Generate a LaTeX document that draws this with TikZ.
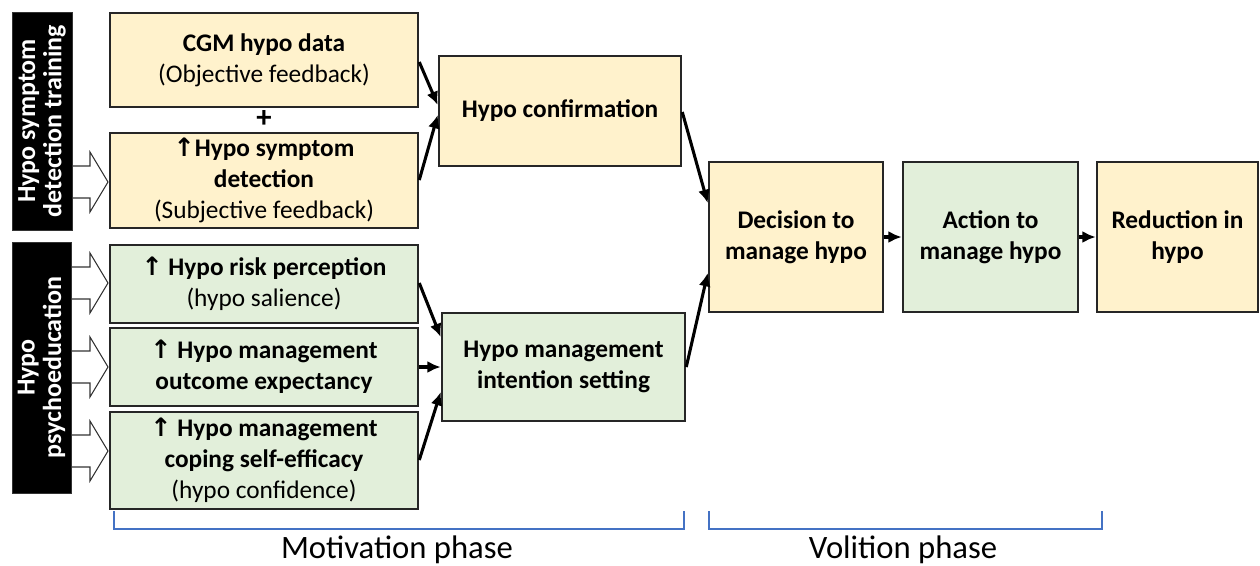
\documentclass[tikz,border=0pt]{standalone}
\usepackage{fontspec}
\setmainfont{Carlito}
\newfontfamily\dejavu{DejaVu Sans}
\usetikzlibrary{arrows.meta,calc}
\definecolor{beige}{HTML}{FFF2CC}
\definecolor{lgreen}{HTML}{E2EFDA}
\definecolor{brk}{HTML}{4472C4}
\newcommand{\up}{{\dejavu\bfseries ↑}}
\tikzset{
  sz/.style 2 args={minimum width=#1*0.75pt, minimum height=#2*0.75pt},
  box/.style={draw=black!85, line width=1.9pt, inner sep=0pt, align=center,
    font=\fontsize{19}{23.3}\selectfont},
  ybox/.style={box, fill=beige},
  gbox/.style={box, fill=lgreen},
  blk/.style={fill=black, draw=black!80, inner sep=0pt, text=white, align=center,
    font=\fontsize{19.5}{22}\selectfont\bfseries},
  arr/.style={line width=2.3pt, -{Latex[length=10pt,width=9pt]}},
  hollow/.style={draw=black!80, fill=white, line width=0.8pt},
  brack/.style={draw=brk, line width=0.8pt},
  phase/.style={font=\fontsize{24.5}{28}\selectfont}
}
\begin{document}
\begin{tikzpicture}[x=0.75pt,y=-0.75pt]
\useasboundingbox (0,0) rectangle (1260,565);
% hollow arrows
\foreach \c/\n in {182/a1,283/a2,367/a3,451/a4}{
  \draw[hollow] (70,\c-16) -- (90,\c-16) -- (90,\c-30) -- (108,\c) -- (90,\c+30) -- (90,\c+16) -- (70,\c+16) -- cycle;
}
% black side boxes
\node[blk, sz={60}{218}] (blk1) at (42,121) {\rotatebox{90}{\shortstack{Hypo symptom\\detection training}}};
\node[blk, sz={59}{251}] (blk2) at (41.5,367.5) {\rotatebox{90}{\shortstack{Hypo\\psychoeducation}}};
% left boxes
\node[ybox, sz={308}{94}] (cgm) at (264,60) {\textbf{CGM hypo data}\\(Objective feedback)};
\node[font=\fontsize{23}{24}\selectfont\bfseries] (plus) at (264,119) {+};
\node[ybox, sz={308}{95}] (sym) at (264,180.5) {\textbf{\up Hypo symptom}\\\textbf{detection}\\(Subjective feedback)};
\node[gbox, sz={308}{78}] (risk) at (264,284) {\textbf{\up{} Hypo risk perception}\\(hypo salience)};
\node[gbox, sz={308}{78}] (out) at (264,367) {\textbf{\up{} Hypo management}\\\textbf{outcome expectancy}};
\node[gbox, sz={308}{97}] (cope) at (264,460.5) {\textbf{\up{} Hypo management}\\\textbf{coping self-efficacy}\\(hypo confidence)};
% middle boxes
\node[ybox, sz={242}{110}] (conf) at (560,111) {\textbf{Hypo confirmation}};
\node[gbox, sz={243}{108}] (intent) at (563.5,367) {\textbf{Hypo management}\\\textbf{intention setting}};
% right boxes
\node[ybox, sz={174}{150}] (dec) at (796,237) {\textbf{Decision to}\\\textbf{manage hypo}};
\node[gbox, sz={175}{150}] (act) at (990.5,237) {\textbf{Action to}\\\textbf{manage hypo}};
\node[ybox, sz={161}{150}] (red) at (1177.5,237) {\textbf{Reduction in}\\\textbf{hypo}};
% connectors
\draw[arr] (cgm.east |- 0,62) -- (conf.west |- 0,105);
\draw[arr] (sym.east |- 0,180) -- (conf.west |- 0,115);
\draw[arr] (conf.east |- 0,112) -- (dec.west |- 0,203);
\draw[arr] (risk.east |- 0,283) -- (intent.west |- 0,337);
\draw[arr] (out.east) -- (intent.west);
\draw[arr] (cope.east |- 0,460) -- (intent.west |- 0,392);
\draw[arr] (intent.east |- 0,367) -- (dec.west |- 0,273);
\draw[arr] (dec.east) -- (act.west);
\draw[arr] (act.east) -- (red.west);
% brackets
\draw[brack] (114,511) -- (114,529) -- (684,529) -- (684,511);
\draw[brack] (709,511) -- (709,529) -- (1102,529) -- (1102,511);
\node[phase] (mot) at (397,550) {Motivation phase};
\node[phase] (vol) at (903,550) {Volition phase};
\end{tikzpicture}
\end{document}
